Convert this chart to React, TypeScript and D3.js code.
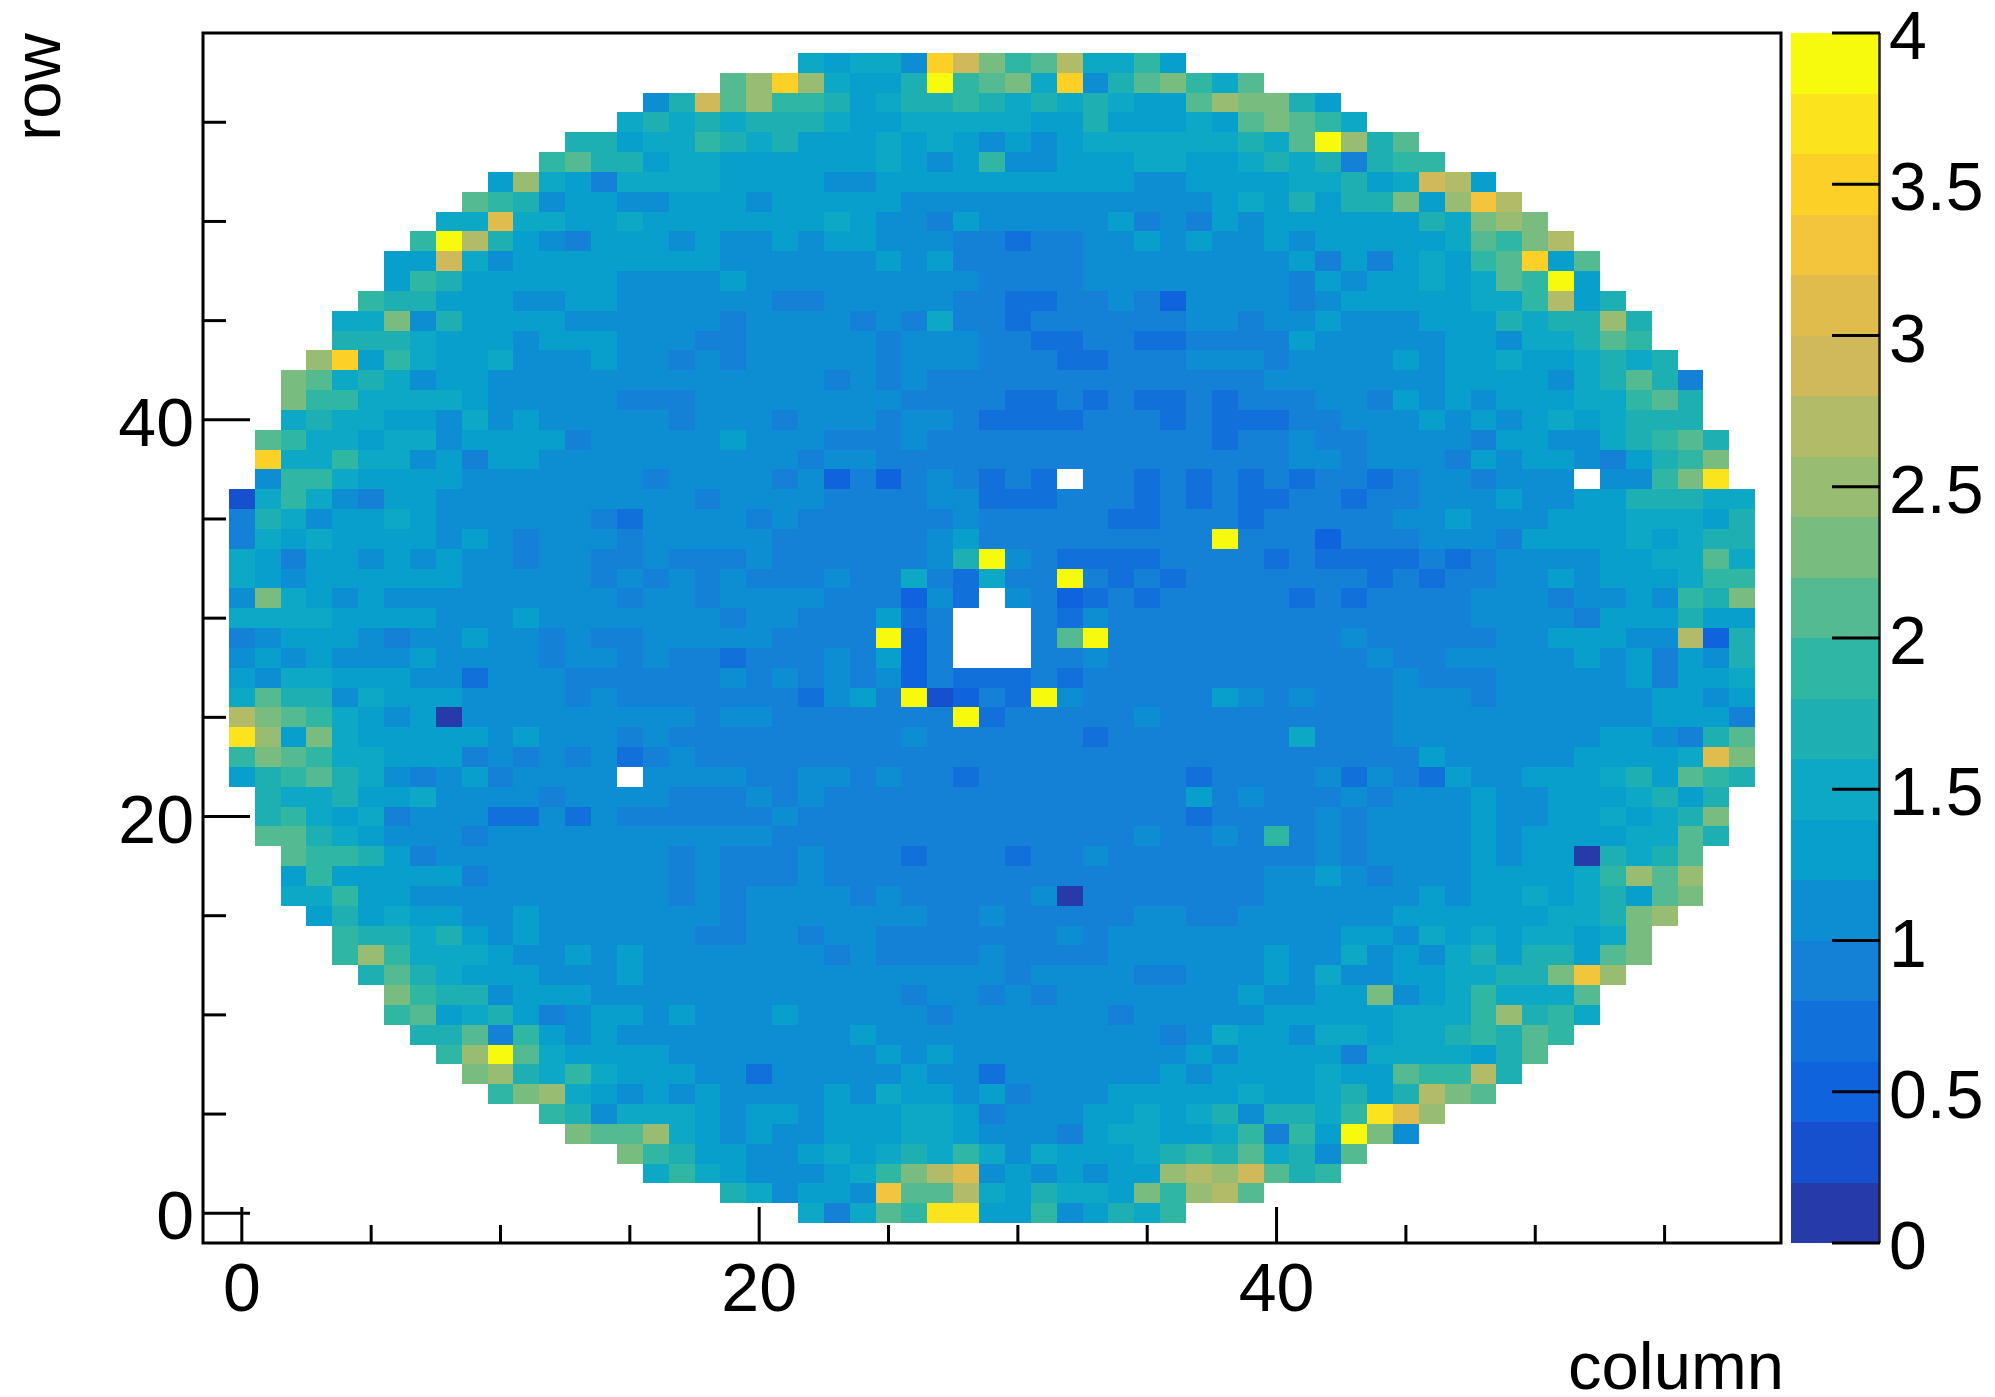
import React from "react";
import * as d3 from "d3";

// Levels: 0-9, a-j = colour band 0..19 (each band 0.2 wide). "." = empty cell.
const ROW_START = [22,19,16,15,13,12,10,9,8,7,6,6,5,4,4,3,2,2,2,1,1,1,0,0,0,0,0,0,0,0,0,0,0,0,0,0,0,1,1,1,2,2,2,3,4,4,5,6,6,7,8,9,10,12,13,15,16,19,22];
const ROW_VALUES = [
  "747a9ii66956879",
  "8 7 5 66 5 g aa d 7 6 8 77 6 b 9 c d a",
  "7976 555 6 7 9 b d f 5 6 5 6 5 66 c d c e a 8 9",
  "b 9 8 66 55 6 7 6 7 8 7 9 7 5 7 666 7 8 9 8 a 7 8 5 a",
  "b aa c 7 6 5 6 55 666 77 6 555 4 6 77 66 7 9 4 9 6 j b 5",
  "9 8 5 777 6 5 66 5 666 77 6 4 555 66 7 6 7 8 5 88 7 9 i f c",
  "9 b c 7 6 5 6 5 6 5 555 6 5 7 66 5 6 4 555 66666 7 66 7 8 6 8 d b a",
  "b c 8 7 9 7 666 55 3 55555 6 55 3 555555 6 5 6 666 7 66 a 99 d 8",
  "9 c j a 7 6666 555 55555 6 5 6 555555555 6 5 6666 4 7777 6 8 a",
  "88 a 4 9 6 5 6 55555 5555 6 55555555555 4 5 7 66 5 77 6 77 8 9 8 a 9",
  "9 a 6 7 8 6 4 5 66 5 6 55 5 6 55555 4 555555 4 5555 5 66666 777 9 c 8 9 7",
  "b 9 88 5 666 555555 555555 4 55 4 5 4 5555555 6 55 66 b 5 6 7 9 777 a",
  "8 a 8 7 666 555 6 5555 5555555555 4 5555 44 55 5 6 5 7 55 66 77 88 b g c",
  "9 c 9 777 6 55 6 5 6 5555 555 4 5 4444 5 4444 55555 5 6 55 7 5 6 5 7 8 6 88 6 a b",
  "9 88 7 8 6 5 6 555555 44 55 4 55 4444444 5 4 55555 5555 66 5 7 6 7 6 77 6 7 b",
  "6 8 6 7 66 55 6 5555555 4 5555555 44 5 44444 55 44 555555 666666 77 8 b c",
  "77 9 66 5555555555 4 5 4 5555 4 5 44444 5 0 444444 4 555555 6 5 66 7 6 7 8 6 a b",
  "6 9 66666 4 5555555 4 5 4 44 5 4444444444444444 4 55 6 5 4 555 6666 7 9 c a c",
  "a 99 8 6 4 555555555 4 5 4 44 5 444 3 444 3 44 5 44444 444 5 4 5555 6 5 66 0 8 7 8 a",
  "aa 8 7 6 555 4 5555555555 5 44444444444444 5 44 5 4 9 4 5 4 5555 6 5 6666 77 a 8",
  "8 9 7 6 7 4 555 33 5 3 5 44444 4 5 444444444444444 3 4 444 5 4 5555 6 55 66 7 6 7 8 b",
  "8 77 8 66 7 5555 4 5555 444 5 4 5 44444444444444 6 4 5 444 5 4 555 6 55 666 7 8 6 8",
  "6 8 9 a 8 7 5 4 5 6 4 5555 . 5555 44 55 4 5 44 3 44444444 3 4 444 5 3 5 4 3 6 55 666 7 8 6 a 9 8",
  "9 b a 9 77 666 4 5 4 5 4 5 3 4 5 44 4444444444444444444 4444444 6 55555 6666 7 f b",
  "i c 6 b 7 6 6666 5 6 555 4 5 444 444444 5 444444 3 44444 44 7 444 55555555 66 5 4 8 a",
  "d b a 9 7 6 5 6 0 555555555 4 5 5 4444444 j 3 44444 5 444 444444 5555555555 666 4",
  "7 a 88 5 7 666 5555 4 5 44444 44 3 5 6 4 j 1 2 4 3 j 5 44444 6 5 4 5 444 555 4 555555 66 5 6",
  "6 5 77 666 55 3 555 444444 5 4 5 4 5 4 5 2 4 3 3 3 4 3 444444 444444 5 444 55555 6 4 66 7",
  "5 6 5 6 555 6 5555 4 55 4 5 44 3 444 5 4 6 2 4 ... 44 5 44444 44444 5 44 55555 6 5 6 4 6 5 8",
  "4 5 666 5 4 55 6 55 4 5 44 5555 5 4444 j 2 4 ... 4 a j 44444 4444 5 44444 55 666 55 d 2 8",
  "7777 6666 555 6 5555555 4 55 444 6 3 4 ... 4 3 5 44444 444444444 5555 4 666 8 66",
  "5 b 7 6 5 6 555555555 4 55 4 5 555 444 2 5 3 . 5 4 2 3 4 3 444 44 3 4 3 4444 555 4 55 6 5 9 8 b",
  "7 6 5 666666 55555 4 5 4 5 4 5 444 5 44 7 4 3 7 44 j 4 3 4 3 44 44444 3 4 3 44 55 6 5 666 7 99",
  "7 6 4 66 5 6 5 6 55 4 55 44 5 444 5 444444 5 8 j 5 4 3333 444 4 3 4 3333 4 3 4 5555 66 77 a 7",
  "4 7 6 7 6666 5 6 5 4 555 4 5555 5 444444 5 6 444444444 j 444 2 444 555 4 6666 7 6 7 88",
  "4 8 7 5 66 7 6 555555 4 3 5555 4 5 444444 5 44444 33 444 3 44444 55 6 555 666 777 6 8",
  "1 7 9 7 5 4 66 5555555555 4 5 555 4444 55 333 444 3 4 3 4 33 44 3 44 555 6 55 66 888 77",
  "5 99 7 6666 5555555 4 555 5 4 5 2 4 2 4 5 4 3 4 3 . 44 3 4 3 4 3 4 3 44 3 4 55 4 555 . 55 9 b i",
  "h779 77 5 6 4 66 55555555 55 4 55 44444444444444 44 55 4 555 4 6 5 66 5 4 6 8 9 b",
  "a9 77 6 77 5 6666 4 55555 6 555 444 5 44444444444 3 44 5 44 5555 4 66 55 7 8 9 a 8",
  "7877 66 5 7 5 6 55555 4 55 5 4 555 4 55 4 3333 444 3 4 3 33 44 555 6 5 6 5 6 7 6 7 888",
  "b99 7777 6 55555 444 55 555555 4444 33 4 3 4 33 4 3 444 55 4 6 5 6 5 666 77 9 a 8",
  "ba7875 66 5555555555 555 4 5 4 5 444444444444 4 5555555 6666 5 7 8 a 8 4",
  "ch697 667 555 6 55 4 5 4 55555 4 555 444 33 444 55 5 4 5555 6 5 66 7 66 7 8 7 8",
  "8887 666 5 666 555 44 55555 4 555 44 33 44 33 44 44 6 55555 66 5 77 8 a 9",
  "77b58 6666 555555 4 5555 4 5 4 7 44 3 444444 55 4556555666 878 8c8",
  "98866655 66 55555 5 44 55555 44 33 44 5 4 2 55 5545666667 79d68",
  "698 666666 5555 6 555555555 4444 555555 55465667 67a9j6",
  "66e75 66666666 5 55555 656 44444 555555 5564646 769ah6a",
  "9jd8654666565 5656655544344556565 565666 66 7a9bd",
  "77f776676666 6667655465555564546 5666666 87bcb",
  "a9856655666 566666 555555555555 6 7686 88b6cgd",
  "6c76477776 6665566666666665566 6677867ed6",
  "9a886776 6666676569556667766 7878 4899",
  "8867798 7866676765656777777 87ajc8a",
  "78787 8887667777766866676 aba97",
  "58ea c99867889878787 66ac bb86",
  "achc7668j9ab7h58ab97a",
  "76775heb9ad7796",
];

const BAND_COLORS = [
  "#263aa8", "#1650ce", "#0f64de", "#1270da", "#1480d6",
  "#0e8ed2", "#089fcd", "#0da8c5", "#1eafb2", "#2fb7a3",
  "#53ba92", "#78bc80", "#98bc72", "#b2bc68", "#d0b95b",
  "#e0bc4c", "#f2c53c", "#fdd028", "#fbe41e", "#f8fa0d",
];

const X_MAJOR = [0, 20, 40];
const X_MINOR = [5, 10, 15, 25, 30, 35, 45, 50, 55];
const Y_MAJOR = [0, 20, 40];
const Y_MINOR = [5, 10, 15, 25, 30, 35, 45, 50, 55];
const Z_TICKS = [0, 0.5, 1, 1.5, 2, 2.5, 3, 3.5, 4];
const X_TITLE = "column";
const Y_TITLE = "row";

const FONT = "'Liberation Sans', Arial, sans-serif";
const FS = 68;

export default function App() {
  const x = d3.scaleLinear().domain([-1.5, 59.5]).range([203, 1781]);
  const y = d3.scaleLinear().domain([-1.5, 59.5]).range([1243, 33]);
  const z = d3.scaleLinear().domain([0, 4]).range([1243, 33]);
  const color = d3.scaleOrdinal<number, string>().domain(d3.range(BAND_COLORS.length)).range(BAND_COLORS);

  const cells: { c: number; r: number; v: number }[] = [];
  ROW_VALUES.forEach((s, r) => {
    const chars = s.replace(/ /g, "");
    Array.from(chars).forEach((ch, i) => {
      if (ch === ".") return;
      cells.push({ c: ROW_START[r] + i, r, v: parseInt(ch, 20) });
    });
  });

  return (
    <svg width={1995} height={1397} style={{ position: "absolute", left: 0, top: 0, background: "#fff" }} fontFamily={FONT}>
      <g shapeRendering="crispEdges">
        {cells.map((d) => (
          <rect
            key={`${d.c}-${d.r}`}
            x={x(d.c - 0.5)}
            y={y(d.r + 0.5)}
            width={x(d.c + 0.5) - x(d.c - 0.5)}
            height={y(d.r - 0.5) - y(d.r + 0.5)}
            fill={color(d.v)}
          />
        ))}
      </g>
      <rect x={x.range()[0]} y={y.range()[1]} width={x.range()[1] - x.range()[0]} height={y.range()[0] - y.range()[1]} fill="none" stroke="#000" strokeWidth={3} />
      {X_MINOR.map((v) => (
        <line key={v} x1={x(v)} x2={x(v)} y1={1243} y2={1225} stroke="#000" strokeWidth={3} />
      ))}
      {X_MAJOR.map((v) => (
        <g key={v}>
          <line x1={x(v)} x2={x(v)} y1={1243} y2={1207} stroke="#000" strokeWidth={3} />
          <text x={x(v)} y={1311} fontSize={FS} textAnchor="middle">{v}</text>
        </g>
      ))}
      {Y_MINOR.map((v) => (
        <line key={v} x1={203} x2={226} y1={y(v)} y2={y(v)} stroke="#000" strokeWidth={3} />
      ))}
      {Y_MAJOR.map((v) => (
        <g key={v}>
          <line x1={203} x2={250} y1={y(v)} y2={y(v)} stroke="#000" strokeWidth={3} />
          <text x={194} y={y(v) + 26} fontSize={FS} textAnchor="end">{v}</text>
        </g>
      ))}
      <text x={1784} y={1389} fontSize={67} textAnchor="end">{X_TITLE}</text>
      <text transform="translate(60,33) rotate(-90)" fontSize={67} textAnchor="end">{Y_TITLE}</text>
      <g shapeRendering="crispEdges">
        {BAND_COLORS.map((col, i) => (
          <rect key={i} x={1791} y={z((i + 1) * 0.2)} width={88} height={z(i * 0.2) - z((i + 1) * 0.2)} fill={col} />
        ))}
      </g>
      <line x1={1879.5} x2={1879.5} y1={33} y2={1243} stroke="#222" strokeWidth={2.5} />
      {Z_TICKS.map((v) => (
        <g key={v}>
          <line x1={1832} x2={1880} y1={z(v)} y2={z(v)} stroke="#000" strokeWidth={3} />
          <text x={1889} y={z(v) + 26} fontSize={FS} textAnchor="start">{v}</text>
        </g>
      ))}
    </svg>
  );
}
